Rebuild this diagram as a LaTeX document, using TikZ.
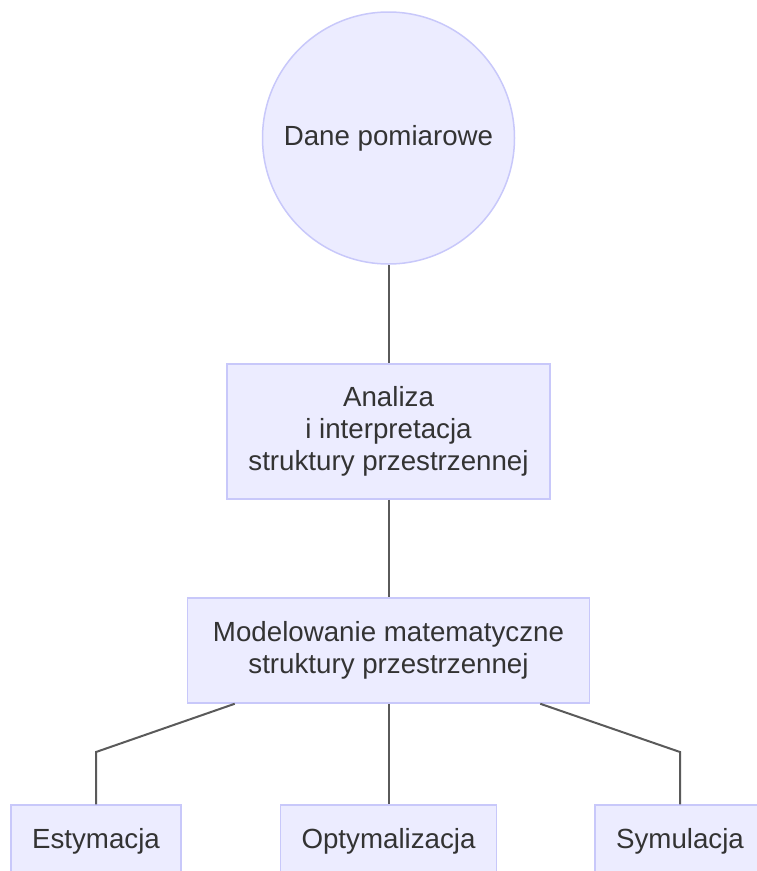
\documentclass[tikz,border=0pt]{standalone}
\usepackage{fontspec}
\setmainfont{Liberation Sans}
\definecolor{nodefill}{HTML}{ECECFF}
\definecolor{nodeborder}{HTML}{C8C8FA}
\definecolor{edgecol}{HTML}{5A5A5A}
\definecolor{textcol}{HTML}{333333}
\tikzset{
  basenode/.style={fill=nodefill, draw=nodeborder, line width=1.5pt, text=textcol,
    font=\fontsize{27.7}{31.7}\selectfont, align=center, inner sep=0pt},
  roundnode/.style={basenode, circle, minimum size=252pt},
  boxnode/.style={basenode, rectangle},
  edge/.style={draw=edgecol, line width=2pt}
}
\begin{document}
\begin{tikzpicture}[x=1pt,y=-1pt]
\useasboundingbox (0,0) rectangle (756,871);
\node[roundnode] (d) at (388.5,138) {Dane pomiarowe};
\node[boxnode, minimum width=323pt, minimum height=135pt] (a) at (388.5,431.5) {Analiza\\i interpretacja\\struktury przestrzennej};
\node[boxnode, minimum width=402pt, minimum height=105pt] (m) at (388.5,650.5) {Modelowanie matematyczne\\struktury przestrzennej};
\node[boxnode, minimum width=170pt, minimum height=72pt] (e) at (96,841) {Estymacja};
\node[boxnode, minimum width=216pt, minimum height=72pt] (o) at (388.5,841) {Optymalizacja};
\node[boxnode, minimum width=170pt, minimum height=72pt] (s) at (680,841) {Symulacja};
\coordinate (k1) at (96,752);
\coordinate (k2) at (680,752);
\draw[edge] (d) -- (a);
\draw[edge] (a) -- (m);
\draw[edge] ([xshift=48pt]m.south west) -- (k1) -- (e.north);
\draw[edge] (m) -- (o);
\draw[edge] ([xshift=-50pt]m.south east) -- (k2) -- (s.north);
\end{tikzpicture}
\end{document}
